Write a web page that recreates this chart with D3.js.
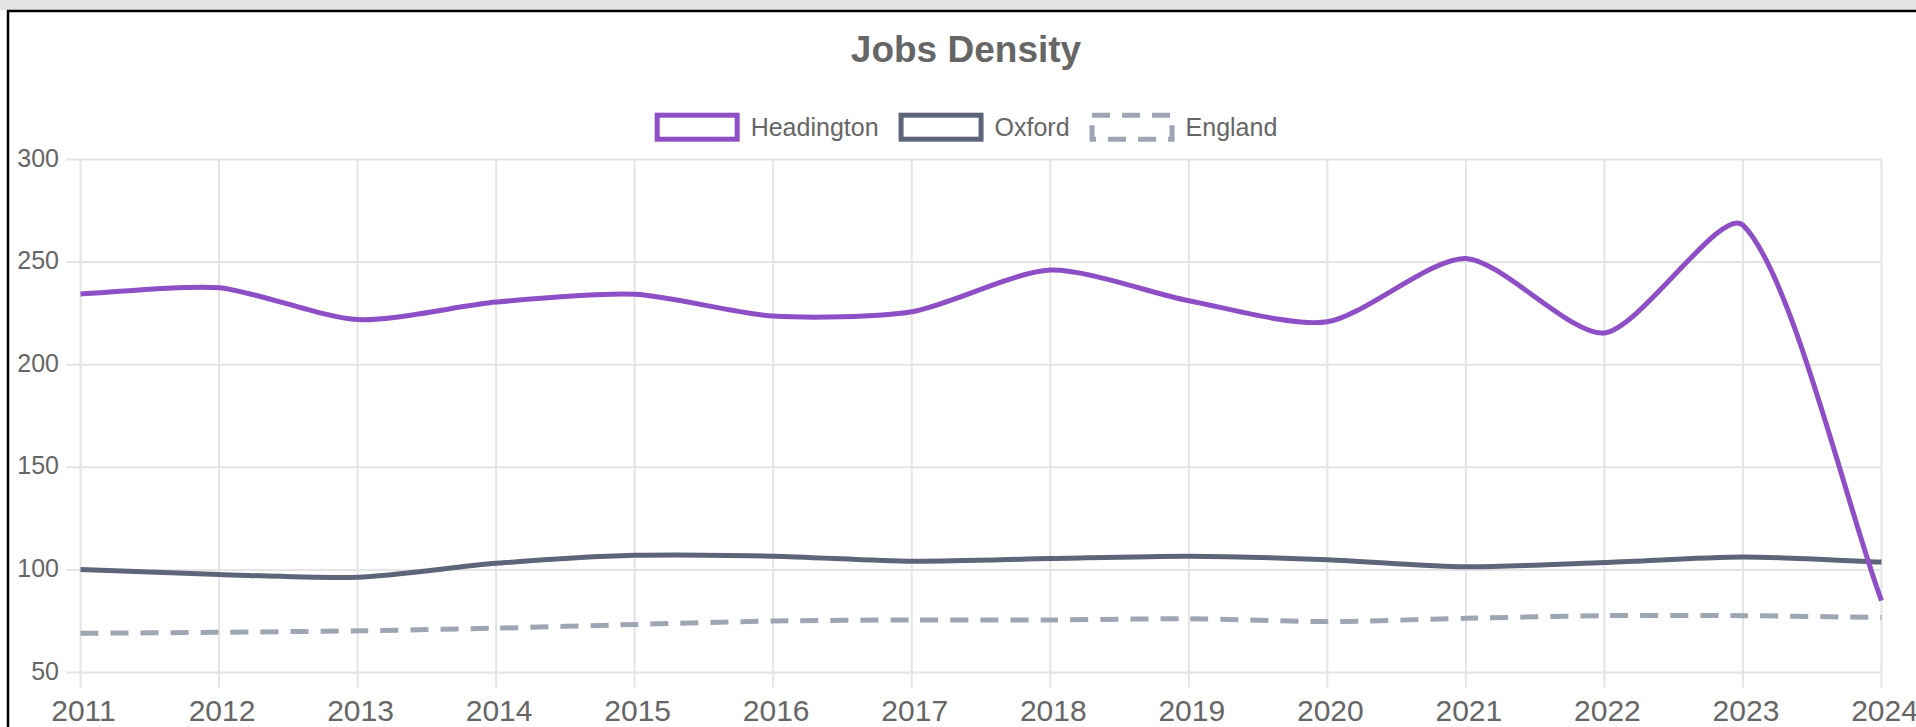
<!DOCTYPE html>
<html>
<head>
<meta charset="utf-8">
<script src="https://cdn.jsdelivr.net/npm/d3@7"></script>
<style>
  body { margin: 0; background: #fff; }
  svg { display: block; font-family: "Liberation Sans", Arial, sans-serif; }
</style>
</head>
<body>
<div id="chart"></div>
<script>
var years = [2011, 2012, 2013, 2014, 2015, 2016, 2017, 2018, 2019, 2020, 2021, 2022, 2023, 2024];
var headington = [234.5, 237.5, 222, 230.5, 234.3, 223.7, 225.8, 246.1, 231.2, 220.9, 251.8, 215.5, 268, 85];
var oxford = [100.2, 97.8, 96.4, 103.2, 107.1, 106.7, 104.2, 105.5, 106.7, 105, 101.5, 103.6, 106.3, 103.8];
var england = [69.1, 69.6, 70.3, 71.6, 73.4, 75.1, 75.6, 75.6, 76.2, 74.8, 76.4, 77.7, 77.7, 76.8];
var yTicks = [50, 100, 150, 200, 250, 300];

var seriesNames = ["Headington", "Oxford", "England"];
var seriesValues = [headington, oxford, england];
var seriesColors = ["#8e4ec6", "#5d6679", "#9ea5b3"];
var seriesDash = [null, null, "18,12"];

var W = 1916, H = 727;
var plotLeft = 80.5, plotRight = 1881.5, plotTop = 159.5, plotBottom = 672.5;

var svg = d3.select("#chart").append("svg")
	.attr("width", W)
	.attr("height", H);

// page frame
svg.append("rect").attr("x", 0).attr("y", 0).attr("width", W).attr("height", 10).attr("fill", "#e5e5e5");
svg.append("line").attr("x1", 7).attr("x2", W).attr("y1", 11).attr("y2", 11).attr("stroke", "#000").attr("stroke-width", 2.5);
svg.append("line").attr("x1", 8).attr("x2", 8).attr("y1", 10).attr("y2", H).attr("stroke", "#000").attr("stroke-width", 2.5);

var x = d3.scalePoint().domain(years).range([plotLeft, plotRight]);
var y = d3.scaleLinear().domain([50, 300]).range([plotBottom, plotTop]);

// grid
var grid = svg.append("g").attr("stroke", "#e4e4e4").attr("stroke-width", 2);
grid.selectAll("line.h")
	.data(yTicks)
	.enter()
	.append("line")
	.attr("class", "h")
	.attr("x1", plotLeft - 14)
	.attr("x2", plotRight)
	.attr("y1", function(d){ return y(d); })
	.attr("y2", function(d){ return y(d); });
grid.selectAll("line.v")
	.data(years)
	.enter()
	.append("line")
	.attr("class", "v")
	.attr("x1", function(d){ return x(d); })
	.attr("x2", function(d){ return x(d); })
	.attr("y1", plotTop)
	.attr("y2", plotBottom + 15);

// axis labels
svg.append("g").selectAll("text")
	.data(yTicks)
	.enter()
	.append("text")
	.attr("x", 59)
	.attr("y", function(d){ return y(d) + 7; })
	.attr("text-anchor", "end")
	.attr("font-size", 25)
	.attr("fill", "#666")
	.text(function(d){ return d; });

svg.append("g").selectAll("text")
	.data(years)
	.enter()
	.append("text")
	.attr("x", function(d){ return x(d) + 3; })
	.attr("y", 721)
	.attr("text-anchor", "middle")
	.attr("font-size", 30)
	.attr("fill", "#666")
	.text(function(d){ return d; });

// title
svg.append("text")
	.attr("x", 966)
	.attr("y", 62)
	.attr("text-anchor", "middle")
	.attr("font-size", 37)
	.attr("font-weight", "bold")
	.attr("fill", "#666")
	.text("Jobs Density");

// spline like chart.js, with a lighter tension
function splinePath(values){
	var pts = values.map(function(v, i){ return {x: x(years[i]), y: y(v)}; });
	var t = 0.25;
	pts.forEach(function(p, i){
		var prev = pts[i - 1] || p, next = pts[i + 1] || p;
		var d01 = Math.hypot(p.x - prev.x, p.y - prev.y);
		var d12 = Math.hypot(next.x - p.x, next.y - p.y);
		var s01 = d01 / (d01 + d12) || 0, s12 = d12 / (d01 + d12) || 0;
		var fa = t * s01, fb = t * s12;
		p.cpPrev = {x: p.x - fa * (next.x - prev.x), y: p.y - fa * (next.y - prev.y)};
		p.cpNext = {x: p.x + fb * (next.x - prev.x), y: p.y + fb * (next.y - prev.y)};
		[p.cpPrev, p.cpNext].forEach(function(c){
			c.x = Math.max(plotLeft, Math.min(plotRight, c.x));
			c.y = Math.max(plotTop, Math.min(plotBottom, c.y));
		});
	});
	var path = d3.path();
	path.moveTo(pts[0].x, pts[0].y);
	for (var i = 1; i < pts.length; i++) {
		path.bezierCurveTo(pts[i-1].cpNext.x, pts[i-1].cpNext.y, pts[i].cpPrev.x, pts[i].cpPrev.y, pts[i].x, pts[i].y);
	}
	return path.toString();
}

// lines, drawn England first so Headington sits on top
[2, 1, 0].forEach(function(k){
	svg.append("path")
		.attr("d", splinePath(seriesValues[k]))
		.attr("fill", "none")
		.attr("stroke", seriesColors[k])
		.attr("stroke-width", 5)
		.attr("stroke-dasharray", seriesDash[k]);
});

// legend
var legend = svg.append("g");
var pos = 0;
seriesNames.forEach(function(name, k){
	var item = legend.append("g").attr("transform", "translate(" + pos + ",0)");
	item.append("rect")
		.attr("x", 2.5)
		.attr("y", 115.2)
		.attr("width", 80)
		.attr("height", 24)
		.attr("fill", "#fff")
		.attr("stroke", seriesColors[k])
		.attr("stroke-width", 5)
		.attr("stroke-dasharray", seriesDash[k]);
	var txt = item.append("text")
		.attr("x", 96)
		.attr("y", 136)
		.attr("font-size", 25)
		.attr("fill", "#666")
		.text(name);
	pos += 96 + txt.node().getComputedTextLength() + 20;
});
var legendW = pos - 20;
legend.attr("transform", "translate(" + (966 - legendW / 2) + ",0)");
</script>
</body>
</html>
